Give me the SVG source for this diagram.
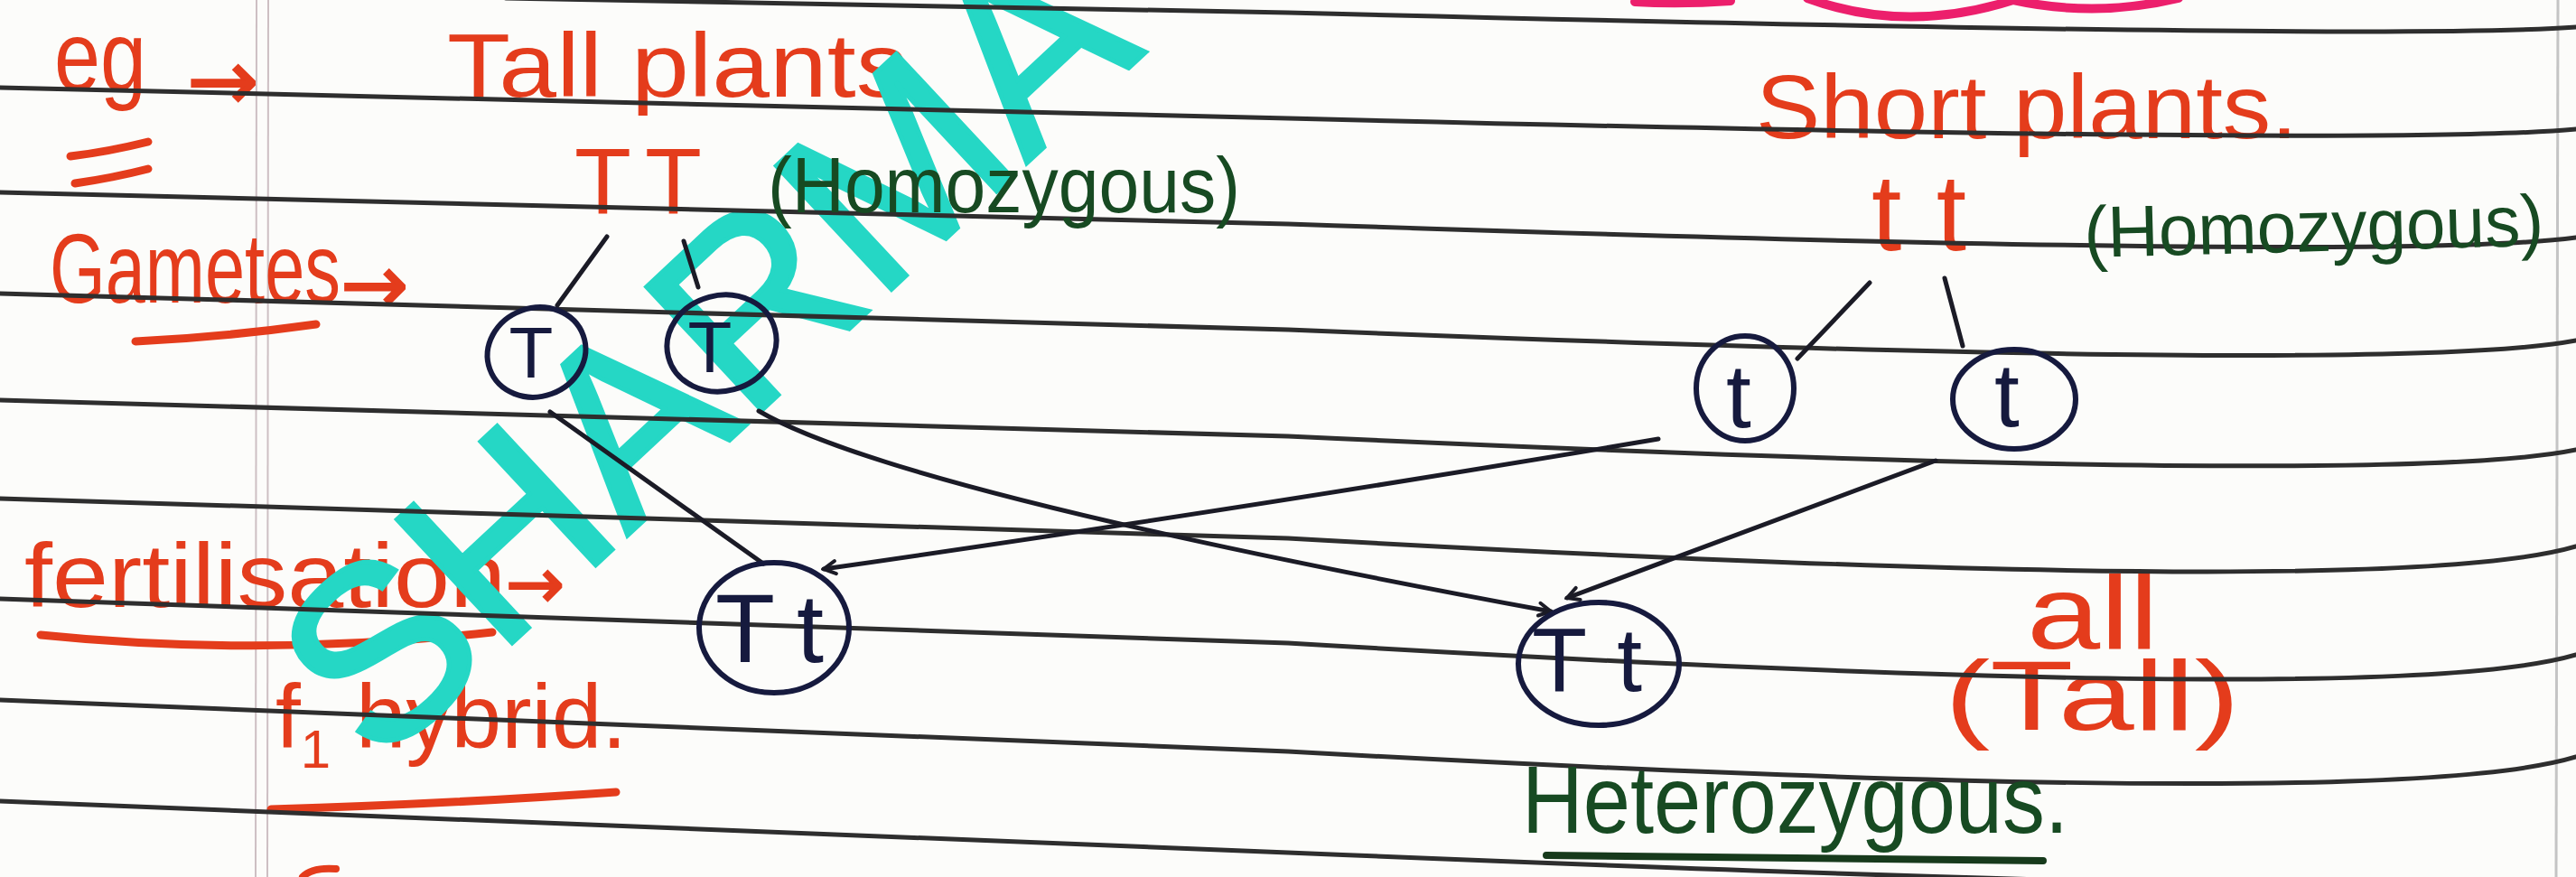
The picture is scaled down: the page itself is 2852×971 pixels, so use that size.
<svg xmlns="http://www.w3.org/2000/svg" width="2852" height="971" viewBox="0 0 2852 971">
<defs>
<style>
.nl{fill:none;stroke:#2e2e2e;stroke-width:5;stroke-linecap:round}
.red{fill:#e43c1c;font-family:"Liberation Sans","DejaVu Sans",sans-serif}
.arr{fill:#e43c1c;stroke:#e43c1c;stroke-width:2;font-family:"DejaVu Sans","Liberation Sans",sans-serif}
.grn{fill:#174a22;font-family:"Liberation Sans","DejaVu Sans",sans-serif}
.rl{fill:none;stroke:#e43c1c;stroke-width:9;stroke-linecap:round}
.ink{fill:none;stroke:#1b1b26;stroke-width:5;stroke-linecap:round}
.node ellipse{fill:none;stroke:#161a3e;stroke-width:6}
.node text{fill:#161a3e;font-family:"Liberation Sans","DejaVu Sans",sans-serif;text-anchor:middle}
.wm{fill:#25d7c5;stroke:#25d7c5;stroke-width:5;font-family:"Liberation Sans","DejaVu Sans",sans-serif}
</style>
<marker id="ah" viewBox="0 0 20 20" refX="17" refY="10" markerWidth="20" markerHeight="20" markerUnits="userSpaceOnUse" orient="auto">
<path d="M4 3 L17 10 L4 17" fill="none" stroke="#1b1b26" stroke-width="4" stroke-linecap="round"/>
</marker>
</defs>
<rect x="0" y="0" width="2852" height="971" fill="#fcfcfa"/>
<g id="margin">
<line x1="284" y1="0" x2="283" y2="971" stroke="#cdbfc3" stroke-width="2"/>
<line x1="297" y1="0" x2="296" y2="971" stroke="#cdbfc3" stroke-width="2"/>
<line x1="2832" y1="0" x2="2830" y2="971" stroke="#c4c4c4" stroke-width="3"/>
</g>
<g id="red-text">
<text class="red" x="60" y="100" font-size="110" textLength="102" lengthAdjust="spacingAndGlyphs">eg</text>
<path class="rl" d="M78 173 Q120 168 164 157 M83 203 Q125 197 164 187"/>
<text class="arr" x="207" y="122" font-size="95">→</text>
<text class="red" x="495" y="107" font-size="100" textLength="510" lengthAdjust="spacingAndGlyphs">Tall plants</text>
<text class="red" x="636" y="237" font-size="103" textLength="141" lengthAdjust="spacing">TT</text>
<text class="red" x="55" y="335" font-size="110" textLength="322" lengthAdjust="spacingAndGlyphs">Gametes</text>
<text class="arr" x="377" y="346" font-size="90">→</text>
<path class="rl" d="M150 378 Q250 373 350 359"/>
<text class="red" x="1944" y="153" font-size="100" textLength="600" lengthAdjust="spacingAndGlyphs">Short plants.</text>
<text class="red" x="2072" y="277" font-size="120" textLength="105" lengthAdjust="spacing">tt</text>
<text class="red" x="27" y="672" font-size="100" textLength="533" lengthAdjust="spacingAndGlyphs">fertilisation</text>
<text class="arr" x="560" y="673" font-size="78">→</text>
<path class="rl" d="M45 703 Q290 728 545 700"/>
<text class="red" x="305" y="828" font-size="100">f<tspan font-size="60" dy="22">1</tspan><tspan dy="-22"> hybrid.</tspan></text>
<path class="rl" d="M300 896 Q500 890 682 877"/>
<text class="red" x="2244" y="718" font-size="115" textLength="146" lengthAdjust="spacingAndGlyphs">all</text>
<text class="red" x="2153" y="808" font-size="110" textLength="327" lengthAdjust="spacingAndGlyphs">(Tall)</text>
<path d="M335 971 Q345 960 372 962" fill="none" stroke="#e43c1c" stroke-width="8" stroke-linecap="round"/>
</g>
<path id="pink" d="M1810 2 Q1860 5 1916 1 M2001 -2 Q2110 38 2229 0 Q2320 20 2412 -2" fill="none" stroke="#ec1f6c" stroke-width="10" stroke-linecap="round"/>
<text id="watermark" class="wm" x="0" y="0" transform="translate(418,851) rotate(-43)" font-size="272">SHARMA</text>
<g id="notebook-lines">
<path class="nl" d="M560 -2 L1426 14 Q2650 45 2852 30"/>
<path class="nl" d="M0 97 L1426 131 Q2650 162 2852 143"/>
<path class="nl" d="M0 213 L1426 248 Q2650 290 2852 263"/>
<path class="nl" d="M0 325 L1426 365 Q2650 415 2852 377"/>
<path class="nl" d="M0 443 L1426 483 Q2650 540 2852 498"/>
<path class="nl" d="M0 552 L1426 596 Q2650 665 2852 605"/>
<path class="nl" d="M0 663 L1426 712 Q2650 785 2852 725"/>
<path class="nl" d="M0 775 L1426 832 Q2650 900 2852 838"/>
<path class="nl" d="M0 887 L1426 944 Q2650 995 2852 975"/>
</g>
<g id="green-text">
<text class="grn" x="850" y="235" font-size="88" textLength="523" lengthAdjust="spacingAndGlyphs">(Homozygous)</text>
<text class="grn" x="2308" y="285" font-size="80" textLength="509" lengthAdjust="spacingAndGlyphs" transform="rotate(-1.5 2308 285)">(Homozygous)</text>
<text class="grn" x="1685" y="922" font-size="105" textLength="605" lengthAdjust="spacingAndGlyphs">Heterozygous.</text>
<path d="M1712 947 L2262 953" fill="none" stroke="#173a1c" stroke-width="8" stroke-linecap="round"/>
</g>
<g id="connectors">
<path class="ink" d="M672 262 L617 338"/>
<path class="ink" d="M757 267 L773 318"/>
<path class="ink" d="M2070 313 L1990 397"/>
<path class="ink" d="M2153 308 L2173 383"/>
<path class="ink" d="M609 456 L845 624"/>
<path class="ink" d="M840 455 C950 520 1300 600 1717 677" marker-end="url(#ah)"/>
<path class="ink" d="M1836 486 Q1400 560 912 630" marker-end="url(#ah)"/>
<path class="ink" d="M2143 510 L1735 662" marker-end="url(#ah)"/>
</g>
<g id="gamete-T1" class="node">
<ellipse cx="594" cy="390" rx="55" ry="49" transform="rotate(-20 594 390)"/>
<text x="588" y="418" font-size="80">T</text>
</g>
<g id="gamete-T2" class="node">
<ellipse cx="799" cy="380" rx="61" ry="53" transform="rotate(-15 799 380)"/>
<text x="786" y="412" font-size="80">T</text>
</g>
<g id="gamete-t1" class="node">
<ellipse cx="1932" cy="430" rx="54" ry="58"/>
<text x="1925" y="473" font-size="100">t</text>
</g>
<g id="gamete-t2" class="node">
<ellipse cx="2230" cy="442" rx="68" ry="55"/>
<text x="2222" y="472" font-size="100">t</text>
</g>
<g id="offspring-Tt1" class="node">
<ellipse cx="857" cy="695" rx="83" ry="72"/>
<text x="852" y="733" font-size="108" textLength="120" lengthAdjust="spacing">Tt</text>
</g>
<g id="offspring-Tt2" class="node">
<ellipse cx="1770" cy="735" rx="89" ry="68"/>
<text x="1757" y="765" font-size="100" textLength="122" lengthAdjust="spacing">Tt</text>
</g>
</svg>
